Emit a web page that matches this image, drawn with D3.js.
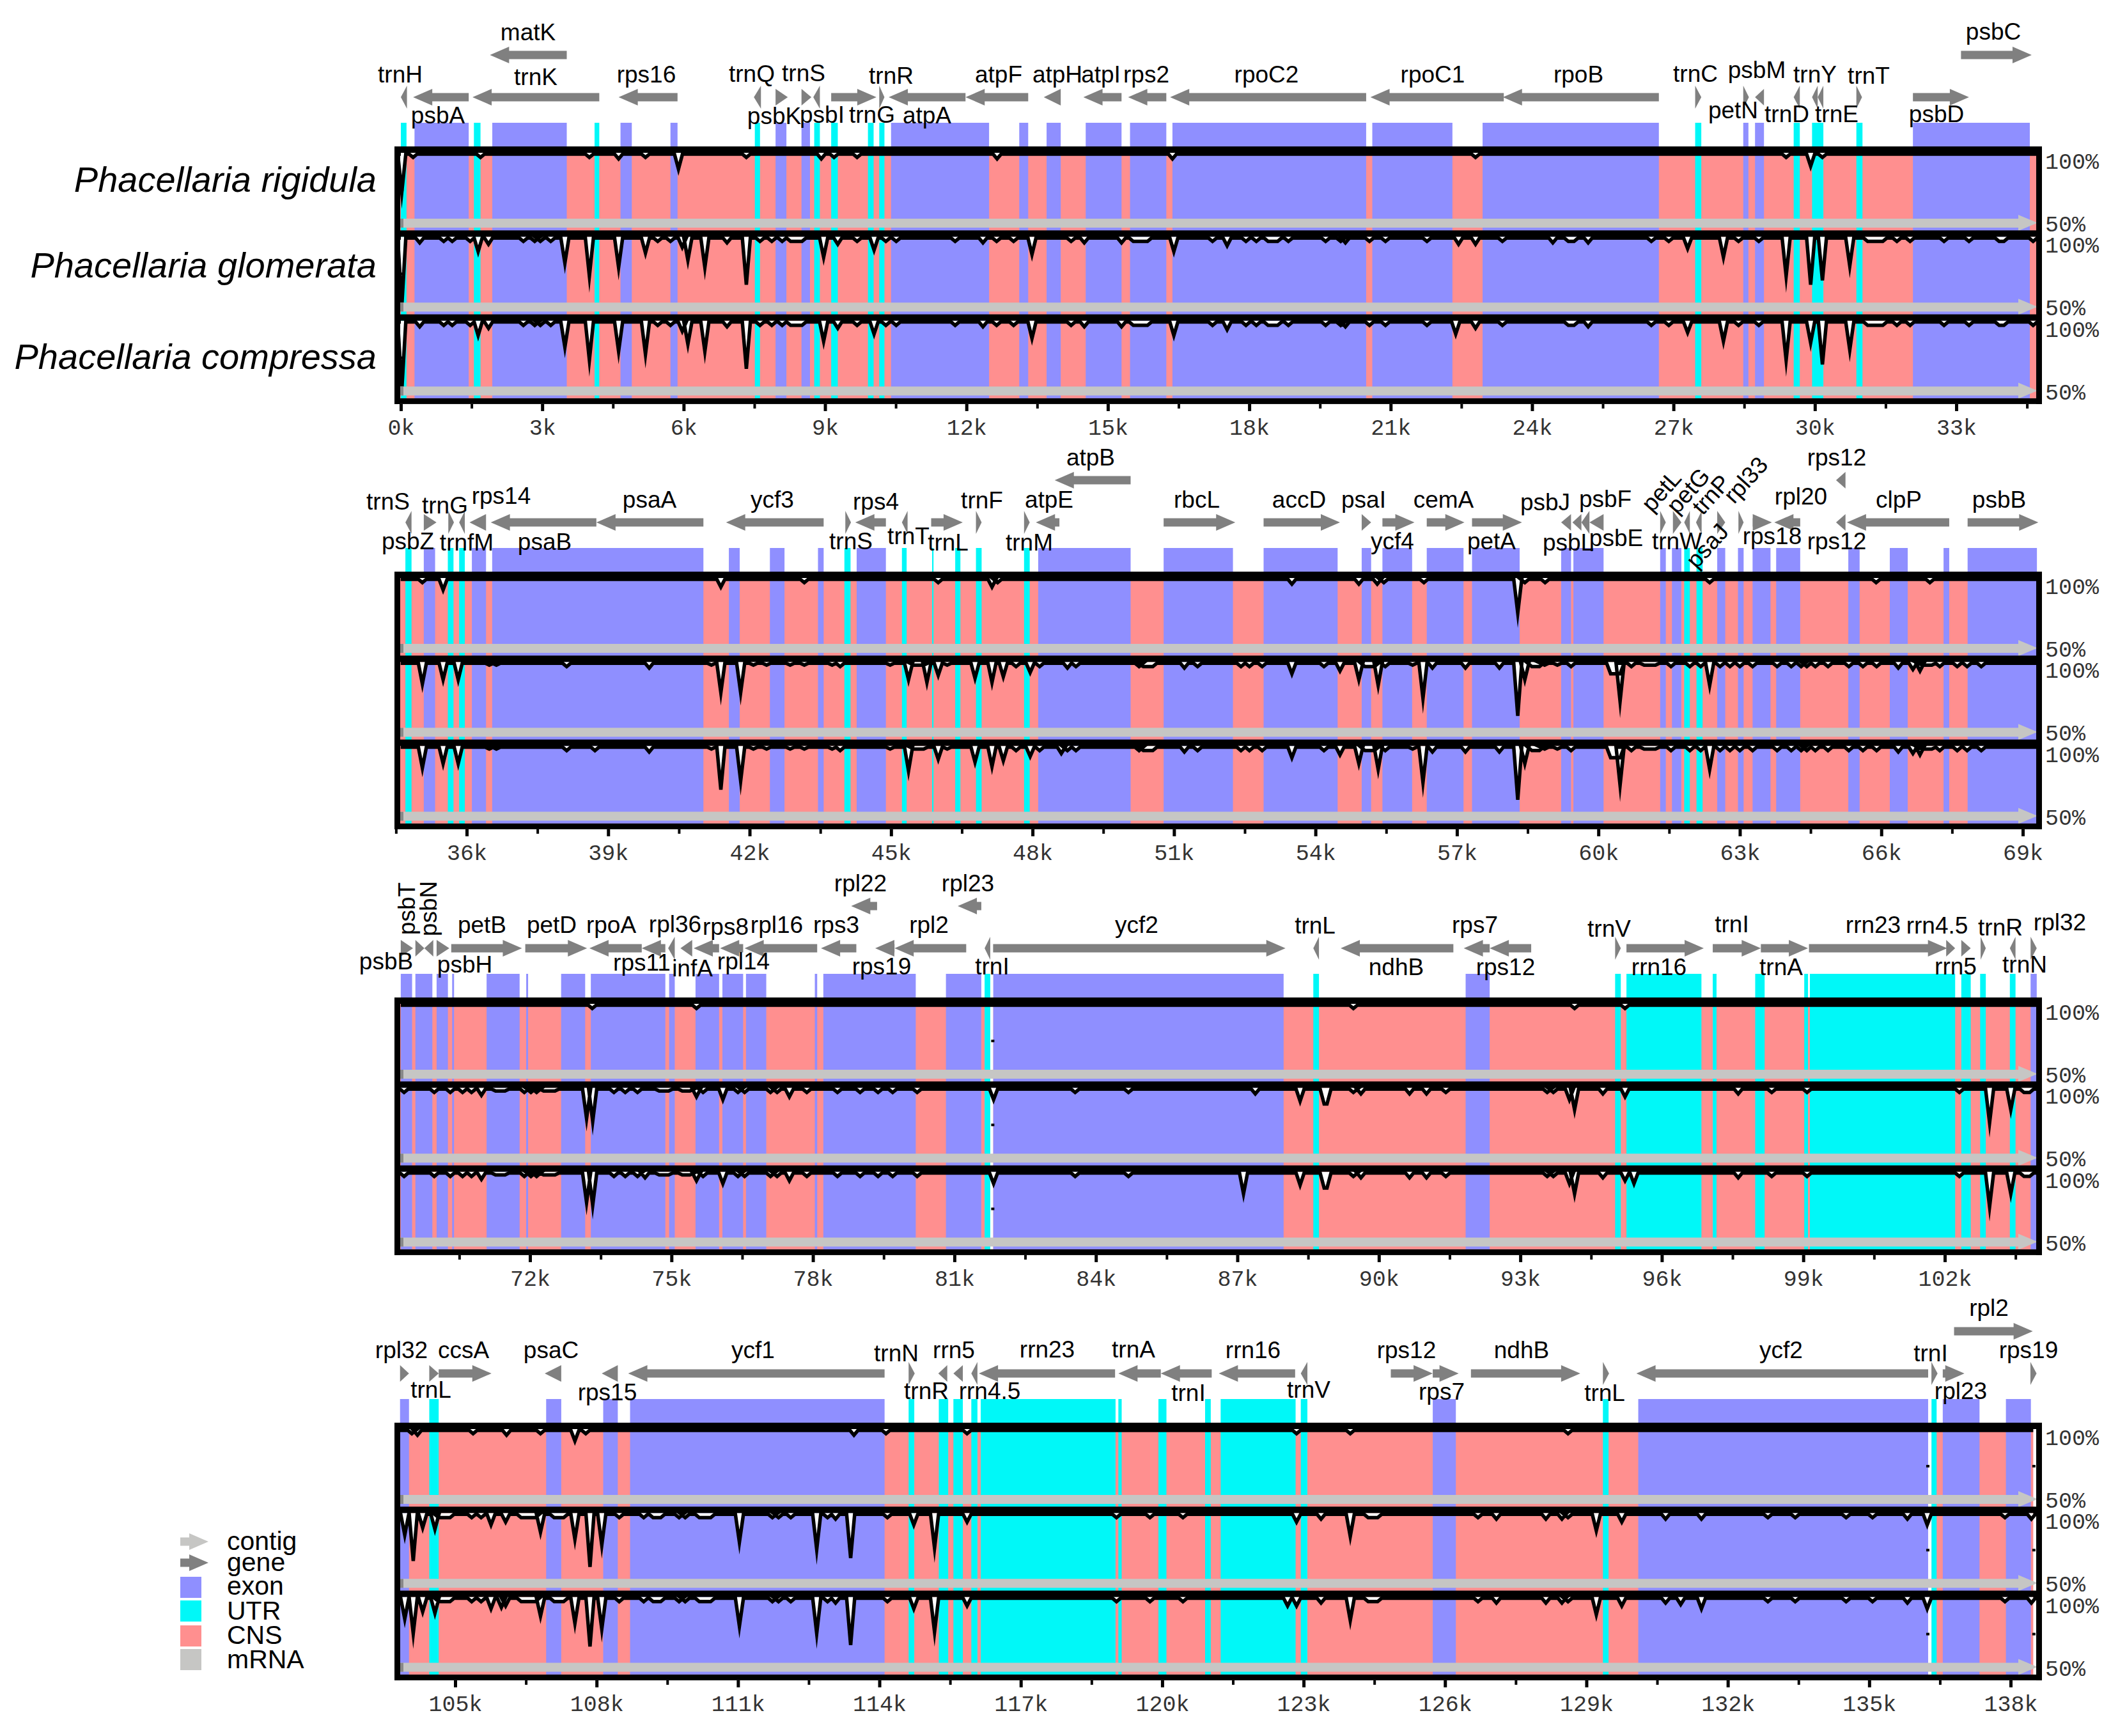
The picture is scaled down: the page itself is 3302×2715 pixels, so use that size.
<!DOCTYPE html>
<html>
<head>
<meta charset="utf-8">
<script src="https://cdn.jsdelivr.net/npm/d3@7"></script>
<style>
body { margin: 0; background: #fff; }
text { font-family: "Liberation Sans", Arial, sans-serif; }
text.mono { font-family: "Liberation Mono", monospace; fill: #333; }
</style>
</head>
<body>
<script>
var species = ["Phacellaria rigidula", "Phacellaria glomerata", "Phacellaria compressa"];

// genes: name, start kb, end kb, strand, tier (1 = raised)
var genes1 = [["trnH",0,.13,-1,0],["psbA",.26,1.44,-1,0],["matK",1.89,3.52,-1,1],["trnK",1.52,4.21,-1,0],["rps16",4.62,5.87,-1,0],["trnQ",7.49,7.64,-1,0],["psbK",7.95,8.21,1,0],["trnS",8.5,8.71,1,0],["psbI",8.75,8.89,-1,0],["trnG",9.13,10.09,1,0],["trnR",10.15,10.26,1,0],["atpA",10.35,11.98,-1,0],["atpF",11.98,13.31,-1,0],["atpH",13.64,14,-1,0],["atpI",14.48,15.29,-1,0],["rps2",15.43,16.24,-1,0],["rpoC2",16.32,20.48,-1,0],["rpoC1",20.57,23.4,-1,0],["rpoB",23.38,26.69,-1,0],["trnC",27.46,27.59,1,0],["petN",28.48,28.6,1,0],["psbM",28.73,28.92,-1,0],["trnD",29.55,29.68,-1,0],["trnY",29.94,30.06,-1,0],["trnE",30.06,30.18,-1,0],["trnT",30.88,31,1,0],["psbD",32.08,33.27,1,0],["psbC",33.1,34.6,1,1]];
var genes2 = [["trnS",34.7,34.83,-1,0],["psbZ",35.09,35.36,1,0],["trnG",35.61,35.73,1,0],["trnfM",35.84,35.96,-1,0],["rps14",36.06,36.41,-1,0],["psaB",36.51,38.75,-1,0],["psaA",38.75,41.02,-1,0],["ycf3",41.5,43.57,-1,0],["trnS",44.03,44.15,1,0],["rps4",44.24,44.89,-1,0],["trnT",45.23,45.35,-1,0],["trnL",45.85,46.52,1,0],["trnF",46.8,46.92,1,0],["trnM",47.82,47.94,1,0],["atpE",48.07,48.57,-1,0],["atpB",48.47,50.08,-1,1],["rbcL",50.78,52.3,1,0],["accD",52.9,54.52,1,0],["psaI",54.98,55.18,1,0],["ycf4",55.42,56.1,1,0],["cemA",56.36,57.16,1,0],["petA",57.32,58.38,1,0],["psbJ",59.21,59.42,-1,0],["psbL",59.45,59.64,-1,0],["psbF",59.64,59.81,-1,0],["psbE",59.81,60.11,-1,0],["petL",61.31,61.43,1,0],["petG",61.58,61.76,1,0],["trnW",61.82,61.94,-1,0],["trnP",62.07,62.19,-1,0],["psaJ",62.52,62.69,1,0],["rpl33",62.97,63.08,1,0],["rps18",63.27,63.68,1,0],["rpl20",63.73,64.28,-1,0],["rps12",65.04,65.24,-1,1],["rps12",65.04,65.24,-1,0],["clpP",65.27,67.44,-1,0],["psbB",67.83,69.33,1,0]];
var genes3 = [["psbB",69.26,69.52,1,0],["psbT",69.57,69.76,1,0],["psbN",69.76,69.95,-1,0],["psbH",70.02,70.29,1,0],["petB",70.33,71.83,1,0],["petD",71.9,73.21,1,0],["rpoA",73.26,74.37,-1,0],["rps11",74.37,74.87,-1,0],["rpl36",74.93,75.07,-1,0],["infA",75.19,75.44,-1,0],["rps8",75.47,76.01,-1,0],["rpl14",76.03,76.52,-1,0],["rpl16",76.55,78.09,-1,0],["rps3",78.17,78.92,-1,0],["rpl22",78.81,79.36,-1,1],["rps19",79.32,79.73,-1,0],["rpl2",79.73,81.25,-1,0],["rpl23",81.07,81.57,-1,1],["trnI",81.64,81.76,-1,0],["ycf2",81.82,88.02,1,0],["trnL",88.61,88.73,-1,0],["ndhB",89.19,91.58,-1,0],["rps7",91.8,92.35,-1,0],["rps12",92.35,93.23,-1,0],["trnV",95.01,95.13,1,0],["rrn16",95.25,96.89,1,0],["trnI",97.08,98.1,1,0],["trnA",98.1,99.1,1,0],["rrn23",99.12,102.05,1,0],["rrn4.5",102.03,102.22,1,0],["rrn5",102.35,102.55,1,0],["trnR",102.76,102.87,1,0],["trnN",103.38,103.5,-1,0],["rpl32",103.82,103.95,1,0]];
var genes4 = [["rpl32",103.83,104.02,1,0],["trnL",104.45,104.65,1,0],["ccsA",104.65,105.77,1,0],["psaC",106.9,107.25,-1,0],["rps15",108.11,108.45,-1,0],["ycf1",108.67,114.11,-1,0],["trnN",114.62,114.75,1,0],["trnR",115.25,115.44,-1,0],["rrn5",115.57,115.77,-1,0],["rrn4.5",115.95,116.08,-1,0],["rrn23",116.11,119,-1,0],["trnA",119.07,119.97,-1,0],["trnI",119.97,121.05,-1,0],["rrn16",121.2,122.82,-1,0],["trnV",122.94,123.08,-1,0],["rps12",124.85,125.74,1,0],["rps7",125.74,126.29,1,0],["ndhB",126.55,128.87,1,0],["trnL",129.35,129.48,1,0],["ycf2",130.06,136.25,-1,0],["trnI",136.32,136.45,1,0],["rpl23",136.56,137.02,1,0],["rpl2",136.8,138.47,1,1],["rps19",138.42,138.55,1,0]];

// label placement, one per gene: centre x, y from panel top, rotation
var place1 = [[626,-100],[685,-36],[826,-166],[838,-96],[1011,-100],[1176,-101],[1211,-35],[1257,-102],[1286,-37],[1364,-37],[1394,-98],[1450,-36],[1562,-100],[1654,-100],[1722,-100],[1793,-100],[1981,-100],[2241,-100],[2469,-100],[2652,-101],[2711,-44],[2748,-107],[2795,-38],[2839,-100],[2873,-38],[2923,-98],[3029,-38],[3118,-167]];
var place2 = [[607,-97],[638,-35],[696,-91],[730,-33],[784,-106],[852,-34],[1016,-100],[1208,-100],[1331,-35],[1370,-97],[1421,-43],[1483,-33],[1536,-99],[1610,-33],[1641,-100],[1706,-166],[1872,-100],[2032,-100],[2133,-100],[2178,-35],[2258,-100],[2333,-35],[2417,-96],[2453,-33],[2511,-101],[2528,-40],[2608,-118,-48],[2650,-118,-48],[2623,-35],[2686,-112,-48],[2680,-32,-48],[2740,-135,-48],[2772,-43],[2817,-105],[2873,-166],[2873,-35],[2970,-100],[3127,-100]];
var place3 = [[604,-44],[649,-139,-90],[683,-139,-90],[727,-39],[754,-101],[863,-101],[956,-101],[1004,-42],[1056,-102],[1083,-33],[1135,-98],[1163,-44],[1215,-101],[1308,-101],[1346,-166],[1379,-36],[1453,-101],[1514,-166],[1552,-36],[1778,-101],[2057,-100],[2184,-35],[2307,-101],[2355,-35],[2517,-95],[2595,-35],[2709,-102],[2786,-35],[2930,-101],[3030,-100],[3059,-36],[3129,-97],[3167,-39],[3222,-105]];
var place4 = [[628,-101],[674,-39],[725,-101],[862,-101],[950,-35],[1178,-101],[1402,-96],[1449,-37],[1492,-101],[1548,-37],[1638,-102],[1773,-102],[1859,-34],[1960,-101],[2047,-39],[2200,-101],[2255,-36],[2380,-101],[2510,-34],[2786,-101],[3020,-96],[3067,-37],[3111,-167],[3173,-101]];

// exon and UTR blocks, start kb / end kb
var exons1 = [[.29,1.44],[1.94,3.52],[4.66,4.9],[5.72,5.87],[7.95,8.18],[8.5,8.68],[10.4,12.48],[13.12,13.31],[13.7,14],[14.53,15.29],[15.47,16.24],[16.37,20.48],[20.61,22.31],[22.95,26.69],[28.48,28.59],[28.73,28.92],[32.08,34.56]];
var exons2 = [[35.09,35.33],[36.11,36.41],[36.54,41.02],[41.56,41.79],[42.43,42.74],[43.45,43.57],[44.27,44.89],[48.12,50.08],[50.78,52.25],[52.9,54.47],[54.98,55.18],[55.42,56.05],[56.36,57.14],[57.32,58.33],[59.21,59.42],[59.47,60.11],[61.31,61.43],[61.56,61.76],[62.52,62.69],[62.96,63.08],[63.27,63.65],[63.77,64.28],[65.3,65.54],[66.18,66.56],[67.32,67.44],[67.83,69.3]];
var exons3 = [[69.26,69.5],[69.57,69.93],[70.02,70.26],[70.35,70.39],[71.08,71.78],[71.92,71.96],[72.66,73.17],[73.29,74.87],[74.95,75.07],[75.51,76.01],[76.08,76.52],[76.58,77.01],[78.04,78.09],[78.22,80.18],[80.82,81.57],[81.82,87.98],[91.84,92.35],[103.82,103.95]];
var exons4 = [[103.83,104.02],[106.93,107.25],[108.14,108.45],[108.71,114.11],[125.74,126.23],[130.1,136.25],[136.56,137.34],[137.9,138.43]];
var utrs1 = [[0,.12],[1.55,1.69],[4.11,4.21],[7.51,7.62],[8.77,8.89],[9.13,9.27],[9.91,10.03],[10.15,10.26],[27.46,27.59],[29.55,29.68],[29.94,30.18],[30.88,31.01]];
var utrs2 = [[34.7,34.83],[35.6,35.72],[35.84,35.96],[44.01,44.14],[45.23,45.33],[45.87,45.9],[46.36,46.47],[46.8,46.92],[47.82,47.94],[61.82,61.94],[62.08,62.21]];
var utrs3 = [[81.64,81.76],[88.61,88.73],[95.01,95.13],[95.25,96.84],[97.08,97.16],[97.98,98.18],[99.02,99.1],[99.14,102.22],[102.35,102.55],[102.75,102.87],[103.38,103.5]];
var utrs4 = [[104.45,104.65],[114.62,114.74],[115.26,115.46],[115.57,115.77],[115.95,116.08],[116.15,119.01],[119.07,119.14],[119.92,120.09],[120.91,121.03],[121.24,122.83],[122.94,123.08],[129.35,129.47],[136.32,136.43]];
var gaps3 = [[81.76,81.82]];
var gaps4 = [[136.25,136.32]];

// conservation dips: kb, percent identity, optional flat half width in kb
var rig1 = [[.02,71],[.26,95],[1.69,95],[4,95],[4.62,94],[5.19,95],[5.89,87],[7.33,95],[8.92,94],[9.19,95],[9.68,95],[12.65,94],[16.37,94],[22.8,95],[29.39,95],[29.91,89],[30.16,95]];
var both1 = [[.02,50],[.4,94],[.91,95],[1.09,95],[1.47,95],[1.64,88],[1.86,93],[2.6,95],[2.84,95],[2.96,95],[3.18,95],[3.48,80],[4,71],[4.62,77],[5.45,95],[5.72,95],[5.97,91],[6.09,82],[6.45,77],[6.92,94],[7.33,65],[7.62,95],[7.87,95],[8.09,95],[8.39,95,.12],[8.97,84],[9.27,93],[9.68,95],[10.04,89],[10.29,95],[10.51,95],[11.76,95],[12.35,94],[12.64,95],[13,95],[13.39,86],[14.22,95],[14.5,94],[15.29,94],[15.69,95,.15],[16.4,88],[17.22,95],[17.53,92],[17.93,95],[18.15,95],[18.5,95,.1],[18.83,95],[19.62,95],[19.94,95],[20.04,94],[20.55,95],[20.89,95],[21.77,95],[22.8,93],[23.37,95],[24.83,95,.06],[25.19,94],[26.53,95],[26.9,95],[27.3,90],[28.06,84],[28.38,95],[28.81,95],[29.39,71],[30.16,68],[30.74,78],[31.28,95,.16],[31.74,95],[32.02,95],[32.74,95],[33.27,95],[33.96,95,.05],[34.63,95]];
var glo1 = [[5.19,87],[22.44,93],[24.44,94],[29.91,65]];
var com1 = [[5.19,75],[22.38,89],[29.91,83]];

var rig2 = [[35.06,95],[35.5,90],[41.39,92],[43.16,95],[46,95],[47.14,92],[47.26,95],[53.5,94],[54.92,94],[55.31,94],[55.45,95],[56.3,95],[58.29,74],[58.44,95],[58.87,95],[62.36,95],[65.89,95],[67.03,95]];
var both2 = [[35.06,83],[35.5,86],[35.82,86],[36.48,96],[36.63,96],[38.12,95],[39.87,94],[41.19,96],[42.08,96],[42.36,96],[42.86,96],[43.16,96],[43.75,96],[43.92,95],[44.98,96],[45.59,96,.1],[46,89],[46.19,96],[46.78,87],[47.14,84],[47.38,88],[47.65,95],[47.95,91],[48.15,95],[48.92,95],[50.26,95],[50.45,95,.1],[51.22,94],[51.5,95],[52.42,95],[52.6,95],[52.87,95],[53.5,90],[54.18,95],[54.52,92],[54.92,86],[55.15,95,.1],[55.33,82],[55.48,95],[56.06,96],[56.28,73],[56.48,94],[57.18,94],[57.9,94],[58.29,61],[58.44,86],[58.67,95,.08],[58.86,96],[59.13,96],[59.42,95],[60.36,90,.1],[60.46,71],[60.7,95],[61.09,96,.12],[61.54,95],[61.94,95],[62.17,95],[62.36,82],[62.58,95],[62.79,95],[63,95],[63.27,95],[63.79,95],[64.09,95],[64.3,95],[64.42,95],[64.6,95],[64.87,95],[65.31,95],[65.61,95],[65.9,95],[66.36,94],[66.67,93],[66.82,92],[66.97,96,.1],[67.24,95],[67.61,95],[67.82,95],[68.12,95]];
var glo2 = [[41.39,77],[41.81,77],[45.37,86],[45.76,84],[48.74,94]];
var com2 = [[38.72,95],[41.39,68],[41.81,74],[45.37,81],[48.61,93],[48.74,95]];

var rig3 = [[73.32,95],[75.53,95],[89.46,95],[94.15,95],[95.22,95]];
var both3 = [[69.33,95],[69.97,95],[70.31,95],[70.57,95],[70.76,95],[70.97,93],[71.37,96,.1],[71.88,95],[72.02,95],[72.14,95],[72.41,96,.12],[73.2,77],[73.33,75],[73.78,95],[74.02,95],[74.28,95],[74.84,96,.1],[75.31,96,.08],[75.53,92],[75.67,95],[76.09,90],[76.41,95],[76.55,95],[77.1,95],[77.24,95],[77.5,92],[77.87,95],[78.52,95],[79,95],[79.38,95],[79.69,95],[80.21,95],[81.83,90],[83.56,95],[84.69,95],[88.33,89],[88.87,87,.03],[89.46,95],[89.62,94],[90.65,94],[91.01,94],[91.42,95],[93.57,95],[93.7,95],[94.04,90],[94.15,83],[94.75,94],[95.22,92],[97.62,94],[98.33,95],[99.08,95],[102.31,95],[102.95,74],[103.4,83],[103.74,95,.06]];
var glo3 = [[87.38,94]];
var com3 = [[74.44,94],[87.13,83],[95.41,90]];

var rig4 = [[104.08,95],[104.2,94],[105.38,95],[106.09,94],[106.81,95],[107.54,90],[107.77,95],[113.46,94],[114.14,95],[115.86,95],[122.85,95],[123.99,95],[128.61,95]];
var both4 = [[103.93,83],[104.31,88],[104.57,87],[104.77,95,.12],[105.35,95],[105.55,95],[105.76,90],[106.07,92],[106.55,95,.15],[106.81,85],[107.2,95,.1],[107.54,80],[108.11,76],[108.48,95],[109,95],[109.28,95,.08],[109.75,95],[109.88,95],[110.3,95,.12],[111.03,78],[111.73,95],[111.86,95],[112.12,95],[112.9,95],[113.07,94],[114.17,95],[114.73,90],[115.17,74],[115.86,92],[119.03,95],[119.74,95],[120.44,95],[122.85,92],[123.37,94],[123.99,82],[124.47,95,.1],[126.7,95],[127.09,94],[128.14,94],[128.48,94],[128.61,95],[129.21,86],[129.75,92],[130.68,94],[132.85,95],[133.43,95],[134.51,95],[135.07,95],[135.81,94],[136.23,90],[137.88,95],[138.44,94]];
var glo4 = [[104.11,65],[107.86,61],[112.67,73],[113.39,67],[131.44,94]];
var com4 = [[104.11,73],[105.98,91],[107.86,64],[112.67,73],[113.39,65],[122.66,92],[131,93],[131.44,90]];

// black specks left in the white stripes
var specks1 = [.03];
var specks3 = [81.82];
var specks4 = [136.25, 138.5];

var rowTops = [229, 894, 1560, 2225];
var rowCalib = [[0,33,627,3060],[36,69,730,3164],[72,102,829,3042],[105,138,712,3145]];
var rowSpan = [[0,34.72],[34.6,69.33],[69.26,103.95],[103.83,138.48]];
var majorTicks = [d3.range(0,34,3), d3.range(36,70,3), d3.range(72,103,3), d3.range(105,139,3)];
var minorTicks = [d3.range(1.5,35,3), d3.range(34.5,68,3), d3.range(70.5,104,3), d3.range(106.5,137,3)];

var rows = [
	{genes:genes1, place:place1, exons:exons1, utrs:utrs1, gaps:[], specks:specks1, dips:[rig1, both1.concat(glo1), both1.concat(com1)]},
	{genes:genes2, place:place2, exons:exons2, utrs:utrs2, gaps:[], specks:[], dips:[rig2, both2.concat(glo2), both2.concat(com2)]},
	{genes:genes3, place:place3, exons:exons3, utrs:utrs3, gaps:gaps3, specks:specks3, dips:[rig3, both3.concat(glo3), both3.concat(com3)]},
	{genes:genes4, place:place4, exons:exons4, utrs:utrs4, gaps:gaps4, specks:specks4, dips:[rig4, both4.concat(glo4), both4.concat(com4)]}
];

var colors = {exon:"#8f8fff", utr:"#00f8f8", cns:"#ff8f8f", mrna:"#c6c6c4", gene:"#808080"};
var frameLeft = 617, frameRight = 3194, innerLeft = 626;
var trackStep = 131.3, barHeight = 10;

var svg = d3.select("body").append("svg").attr("width", 3302).attr("height", 2715);

function geneArrow(x0, x1, strand, cy) {
	var w = x1 - x0;
	var head = Math.min(w, 30);
	var hh = w < 14 ? 18 : 13;
	var sh = 6.5;
	var tip = strand > 0 ? x1 : x0;
	var base = strand > 0 ? x1 - head : x0 + head;
	var tail = strand > 0 ? x0 : x1;
	var pts = [[tail, cy - sh], [base, cy - sh], [base, cy - hh], [tip, cy], [base, cy + hh], [base, cy + sh], [tail, cy + sh]];
	return d3.line()(pts);
}

rows.forEach(function (row, r) {
	var top = rowTops[r];
	var calib = rowCalib[r];
	var x = d3.scaleLinear().domain([calib[0], calib[1]]).range([calib[2], calib[3]]);
	var g = svg.append("g").attr("transform", "translate(0," + top + ")");
	var bottom = 3 * trackStep;

	g.append("rect")
		.attr("x", innerLeft)
		.attr("y", 0)
		.attr("width", x(rowSpan[r][1]) - innerLeft)
		.attr("height", bottom)
		.attr("fill", colors.cns);

	[[row.exons, colors.exon], [row.utrs, colors.utr], [row.gaps, "#fff"]].forEach(function (set) {
		g.selectAll(null)
			.data(set[0])
			.enter()
			.append("rect")
			.attr("x", function (d) { return x(d[0]); })
			.attr("y", -37)
			.attr("width", function (d) { return x(d[1]) - x(d[0]); })
			.attr("height", bottom + 37)
			.attr("fill", set[1]);
	});

	row.dips.forEach(function (dips, t) {
		var t0 = t * trackStep;
		var y = d3.scaleLinear().domain([97.3, 50]).range([t0 + 12, t0 + 119]).clamp(true);
		var pts = [[rowSpan[r][0], 100]];
		dips.slice().sort(function (a, b) { return a[0] - b[0]; }).forEach(function (d) {
			var w = d[2] || 0, h = 0.085;
			pts.push([d[0] - w - h, 100]);
			pts.push([d[0] - w, d[1]]);
			if (w) pts.push([d[0] + w, d[1]]);
			pts.push([d[0] + w + h, 100]);
		});
		pts.push([rowSpan[r][1], 100]);

		var area = d3.area()
			.x(function (d) { return x(d[0]); })
			.y0(t0 + barHeight)
			.y1(function (d) { return y(d[1]); });
		var line = d3.line()
			.x(function (d) { return x(d[0]); })
			.y(function (d) { return y(d[1]); });

		g.append("path").attr("d", area(pts)).attr("fill", "#fff");
		g.append("path").attr("d", line(pts)).attr("fill", "none").attr("stroke", "#000").attr("stroke-width", 5.5).attr("stroke-linejoin", "miter").attr("stroke-miterlimit", 10);

		// contig band
		var tip = 3187;
		g.append("path")
			.attr("d", d3.line()([[innerLeft, t0 + 113], [tip - 30, t0 + 113], [tip - 30, t0 + 107], [tip, t0 + 119.5], [tip - 30, t0 + 132], [tip - 30, t0 + 127], [innerLeft, t0 + 127]]))
			.attr("fill", colors.mrna);
		g.append("rect").attr("x", innerLeft).attr("y", t0 + 113).attr("width", 5).attr("height", 14).attr("fill", "#888");

		row.specks.forEach(function (s) {
			g.append("rect").attr("x", x(s) - 3).attr("y", t0 + 66).attr("width", 5).attr("height", 4).attr("fill", "#000");
		});

		g.append("rect").attr("x", frameLeft).attr("y", t0).attr("width", frameRight - frameLeft).attr("height", barHeight).attr("fill", "#000");

		g.append("text").attr("class", "mono").attr("x", 3199).attr("y", t0 + 35).attr("font-size", 35).text("100%");
		g.append("text").attr("class", "mono").attr("x", 3199).attr("y", t0 + 133).attr("font-size", 35).text("50%");
	});

	g.append("rect").attr("x", frameLeft).attr("y", bottom).attr("width", frameRight - frameLeft).attr("height", 9).attr("fill", "#000");
	g.append("rect").attr("x", frameLeft).attr("y", 0).attr("width", innerLeft - frameLeft).attr("height", bottom + 9).attr("fill", "#000");
	g.append("rect").attr("x", frameRight - 9).attr("y", 0).attr("width", 9).attr("height", bottom + 9).attr("fill", "#000");

	// gene arrows and labels
	g.selectAll(null)
		.data(row.genes)
		.enter()
		.append("path")
		.attr("d", function (d) {
			return geneArrow(x(d[1]), x(d[2]), d[3], d[4] ? -143 : -77);
		})
		.attr("fill", colors.gene);

	g.selectAll(null)
		.data(row.genes)
		.enter()
		.append("text")
		.attr("text-anchor", "middle")
		.attr("font-size", 37)
		.attr("transform", function (d, i) {
			var p = row.place[i];
			return "translate(" + p[0] + "," + p[1] + ")" + (p[2] ? " rotate(" + p[2] + ")" : "");
		})
		.text(function (d) { return d[0]; });

	// axis
	var axisY = bottom + 9;
	var major = d3.axisBottom(x).tickValues(majorTicks[r]).tickSize(11).tickPadding(12).tickFormat(function (d) { return d + "k"; });
	var minor = d3.axisBottom(x).tickValues(minorTicks[r]).tickSize(7).tickFormat("");
	var ga = g.append("g").attr("transform", "translate(0," + axisY + ")").call(major);
	var gm = g.append("g").attr("transform", "translate(0," + axisY + ")").call(minor);
	ga.select(".domain").remove();
	gm.select(".domain").remove();
	ga.selectAll("line").attr("stroke", "#000").attr("stroke-width", 5);
	gm.selectAll("line").attr("stroke", "#000").attr("stroke-width", 4);
	ga.selectAll("text").attr("class", "mono").attr("font-size", 35).attr("fill", "#333");
});

// species names
var nameY = [300, 434, 577];
svg.selectAll(null)
	.data(species)
	.enter()
	.append("text")
	.attr("x", 589)
	.attr("y", function (d, i) { return nameY[i]; })
	.attr("text-anchor", "end")
	.attr("font-style", "italic")
	.attr("font-size", 56)
	.text(function (d) { return d; });

// legend
var legendItems = ["contig", "gene", "exon", "UTR", "CNS", "mRNA"];
var legendColors = [colors.mrna, colors.gene, colors.exon, colors.utr, colors.cns, colors.mrna];
var legendBase = [2424, 2457, 2494, 2533, 2571, 2609];
var legendTops = [0, 0, 2466, 2503, 2542, 2579];
var legendMids = [2411, 2444];
legendItems.forEach(function (name, i) {
	svg.append("text").attr("x", 355).attr("y", legendBase[i]).attr("font-size", 41).text(name);
	if (i < 2) {
		svg.append("path").attr("d", geneArrow(282, 326, 1, legendMids[i])).attr("fill", legendColors[i]);
	} else {
		svg.append("rect").attr("x", 282).attr("y", legendTops[i]).attr("width", 33).attr("height", 33).attr("fill", legendColors[i]);
	}
});
</script>
</body>
</html>
